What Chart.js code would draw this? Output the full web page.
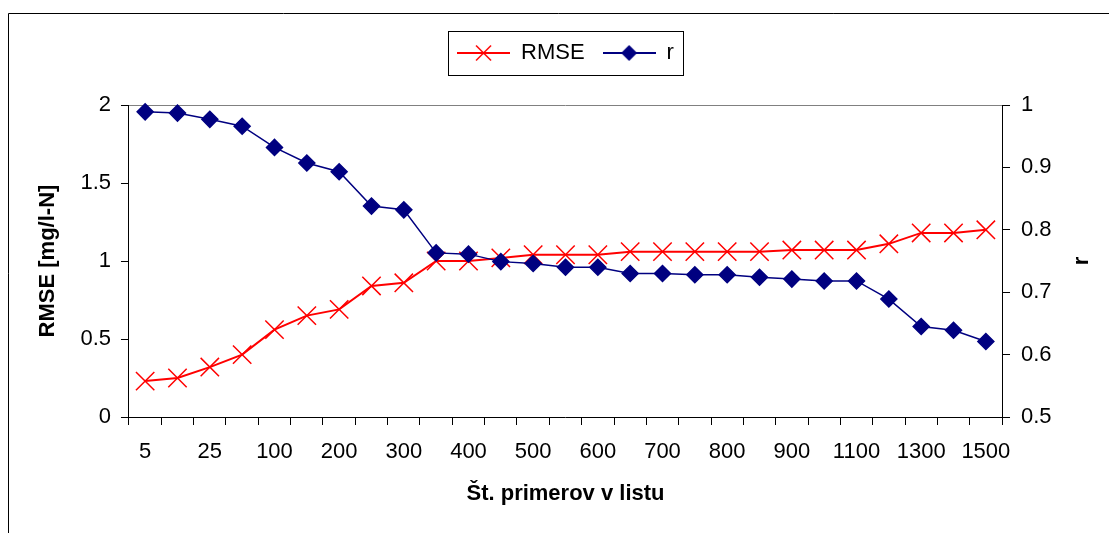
<!DOCTYPE html>
<html lang="sl">
<head>
<meta charset="UTF-8" />
<title>RMSE in r glede na število primerov</title>
<style>
  html, body { margin: 0; padding: 0; background: #fff; }
</style>
</head>
<body>
<canvas id="graf" width="1109" height="533"></canvas>

<script src="https://cdn.jsdelivr.net/npm/chart.js"></script>
<script>
  // število primerov v listu (vsaka druga oznaka je prikazana)
  const primeri = ["5", "10", "25", "50", "100", "150", "200", "250", "300", "350", "400", "450", "500", "550",
    "600", "650", "700", "750", "800", "850", "900", "1000", "1100", "1200", "1300", "1400", "1500"];
  const rmse = [0.23, 0.25, 0.32, 0.40, 0.56, 0.65, 0.69, 0.84, 0.86, 1.00, 1.00, 1.02, 1.04, 1.04,
    1.04, 1.06, 1.06, 1.06, 1.06, 1.06, 1.07, 1.07, 1.07, 1.11, 1.18, 1.18, 1.20];
  const r = [0.989, 0.987, 0.977, 0.966, 0.932, 0.907, 0.893, 0.838, 0.832, 0.763, 0.761, 0.749, 0.746, 0.740,
    0.740, 0.730, 0.730, 0.728, 0.728, 0.724, 0.721, 0.718, 0.718, 0.689, 0.645, 0.639, 0.621];
  const rmseOs = [0, 2, 0.5]; // min, max, korak
  const rOs = [0.5, 1, 0.1];

  const pisava = "'Liberation Sans', Arial, sans-serif";
  Chart.defaults.font.family = pisava;
  Chart.defaults.color = "#000";

  // oznake osi brez odvečnih ničel (2 namesto 2.0)
  const oznaka = (v) => String(+v.toFixed(1));

  // ikona za legendo: črta z oznako na sredini
  function ikona(barva, oblika) {
    const c = document.createElement("canvas");
    c.width = 53;
    c.height = 22;
    const g = c.getContext("2d");
    g.strokeStyle = barva;
    g.fillStyle = barva;
    g.lineWidth = 2;
    g.beginPath();
    g.moveTo(0, 11);
    g.lineTo(53, 11);
    g.stroke();
    g.beginPath();
    if (oblika === "x") {
      g.lineWidth = 1.5;
      g.moveTo(19, 3.5); g.lineTo(34, 18.5);
      g.moveTo(19, 18.5); g.lineTo(34, 3.5);
      g.stroke();
    } else {
      g.moveTo(18.5, 11); g.lineTo(26.5, 3); g.lineTo(34.5, 11); g.lineTo(26.5, 19);
      g.closePath();
      g.fill();
    }
    return c;
  }
  const ikone = [ikona("#ff0000", "x"), ikona("#000080", "romb")];

  const okvir = {
    id: "okvir",
    beforeInit(chart) {
      if (!chart.legend) return;
      const fit = chart.legend.fit;
      chart.legend.fit = function () {
        fit.call(this);
        this.height += 31; // prostor med legendo in grafom
      };
    },
    afterDraw(chart) {
      const ctx = chart.ctx;
      ctx.save();
      ctx.strokeStyle = "#000";
      ctx.lineWidth = 1;
      ctx.beginPath();
      ctx.moveTo(8.5, 533);
      ctx.lineTo(8.5, 13.5);
      ctx.lineTo(1109, 13.5);
      ctx.stroke();

      const boxes = chart.legend.legendHitBoxes;
      if (boxes && boxes.length) {
        const x1 = Math.min(...boxes.map((b) => b.left)) - 9;
        const x2 = Math.max(...boxes.map((b) => b.left + b.width)) + 9;
        const cy = boxes[0].top + boxes[0].height / 2;
        ctx.strokeRect(Math.round(x1) + 0.5, Math.round(cy - 22) + 0.5, Math.round(x2 - x1), 44);
      }

      // naslov desne osi, zasukan kot pri levi osi
      const area = chart.chartArea;
      ctx.translate(1082, (area.top + area.bottom) / 2);
      ctx.rotate(-Math.PI / 2);
      ctx.fillStyle = "#000";
      ctx.font = "bold 22px " + pisava;
      ctx.textAlign = "center";
      ctx.textBaseline = "middle";
      ctx.fillText("r", 0, 0);
      ctx.restore();
    }
  };

  const ctx = document.getElementById("graf").getContext("2d");
  new Chart(ctx, {
    type: "line",
    data: {
      labels: primeri,
      datasets: [
        {
          label: "RMSE",
          data: rmse,
          yAxisID: "y",
          borderColor: "#ff0000",
          backgroundColor: "#ff0000",
          borderWidth: 2,
          pointStyle: "crossRot",
          pointRadius: 13,
          pointHoverRadius: 13,
          pointBorderWidth: 1.5,
          pointBorderColor: "#ff0000",
          order: 1,
          clip: false
        },
        {
          label: "r",
          data: r,
          yAxisID: "y1",
          borderColor: "#000080",
          backgroundColor: "#000080",
          borderWidth: 1.5,
          pointStyle: "rectRot",
          pointRadius: 8,
          pointHoverRadius: 8,
          pointBorderWidth: 1.5,
          pointBackgroundColor: "#000080",
          pointBorderColor: "#000080",
          order: 0,
          clip: false
        }
      ]
    },
    options: {
      responsive: false,
      animation: false,
      events: [],
      layout: { padding: { top: 24, left: 10, right: 46.4, bottom: 0 } },
      plugins: {
        tooltip: { enabled: false },
        legend: {
          position: "top",
          fullSize: false,
          labels: {
            usePointStyle: true,
            pointStyleWidth: 53,
            padding: 18,
            color: "#000",
            font: { size: 22 },
            generateLabels: (chart) =>
              chart.data.datasets.map((ds, i) => ({
                text: ds.label,
                pointStyle: ikone[i],
                fillStyle: ds.borderColor,
                strokeStyle: ds.borderColor,
                lineWidth: 0,
                hidden: false,
                datasetIndex: i,
                fontColor: "#000"
              }))
          }
        }
      },
      scales: {
        x: {
          offset: true,
          grid: { offset: true, drawOnChartArea: false, tickLength: 8, tickColor: "#000" },
          border: { color: "#000" },
          ticks: {
            autoSkip: false,
            maxRotation: 0,
            minRotation: 0,
            padding: 14,
            color: "#000",
            font: { size: 22 },
            callback: function (v, i) {
              return i % 2 === 0 ? this.getLabelForValue(v) : "";
            }
          },
          title: {
            display: true,
            text: "Št. primerov v listu",
            color: "#000",
            font: { size: 22, weight: "bold" },
            padding: { top: 1.4, bottom: 25.8 }
          }
        },
        y: {
          position: "left",
          min: rmseOs[0],
          max: rmseOs[1],
          grid: {
            color: (c) => (c.tick && c.tick.value === rmseOs[1] ? "#808080" : "rgba(0,0,0,0)"),
            tickColor: "#000",
            tickLength: 8
          },
          border: { color: "#000" },
          ticks: { stepSize: rmseOs[2], padding: 10, color: "#000", font: { size: 22 }, callback: oznaka },
          title: {
            display: true,
            text: "RMSE [mg/l-N]",
            color: "#000",
            font: { size: 22, weight: "bold" },
            padding: { top: 24.8, bottom: 9.2 }
          }
        },
        y1: {
          position: "right",
          min: rOs[0],
          max: rOs[1],
          grid: { drawOnChartArea: false, tickColor: "#000", tickLength: 8 },
          border: { color: "#000" },
          ticks: { stepSize: rOs[2], padding: 11, color: "#000", font: { size: 22 }, callback: oznaka }
        }
      }
    },
    plugins: [okvir]
  });
</script>
</body>
</html>
